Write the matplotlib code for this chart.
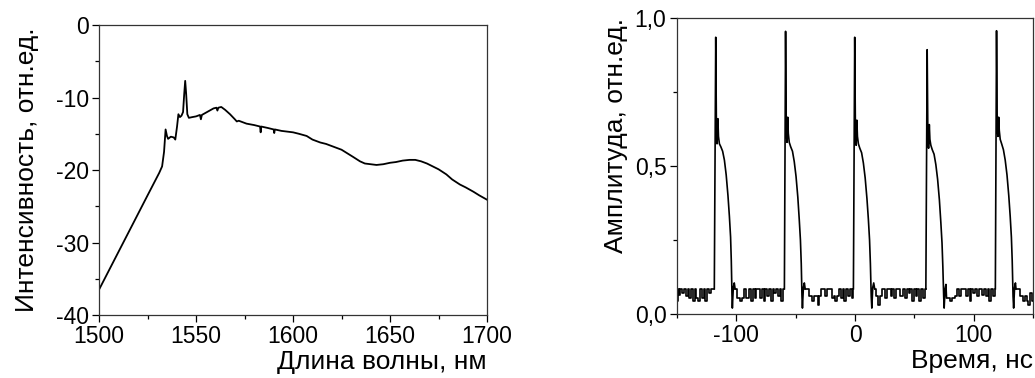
import numpy as np
import matplotlib
matplotlib.use('Agg')
import matplotlib.pyplot as plt
from matplotlib.ticker import MultipleLocator

plt.rcParams['font.family'] = ['Liberation Sans', 'DejaVu Sans']
plt.rcParams['font.size'] = 16.5
plt.rcParams['axes.labelsize'] = 19
plt.rcParams['axes.unicode_minus'] = False

# ---- spectrum (left panel) ----
wl = [1500, 1510, 1517.7, 1525, 1531, 1532.5, 1533.5, 1534.3, 1535.0, 1535.6, 1537, 1538.5,
      1539.3, 1540.2, 1540.9, 1541.7, 1542.5, 1543.3, 1543.9, 1544.4, 1544.9, 1545.5, 1546.3,
      1548, 1550, 1552, 1552.5, 1553, 1555, 1557, 1559, 1560.5, 1561, 1561.5, 1563, 1565,
      1567.5, 1570, 1571, 1572, 1576, 1580, 1583, 1583.3, 1583.6, 1587, 1590, 1590.3, 1590.6,
      1594, 1597, 1600, 1603, 1607, 1610, 1614, 1617, 1621, 1625, 1628, 1631, 1634.5, 1637,
      1640, 1643, 1646.5, 1650, 1653, 1656.5, 1660, 1663, 1666, 1669, 1672, 1675, 1679, 1682,
      1686, 1689, 1693, 1696, 1700]
intens = [-36.5, -31.3, -27.3, -23.5, -20.4, -19.5, -17.5, -14.4, -15.3, -15.7, -15.4, -15.5,
          -15.8, -14.0, -12.3, -12.7, -12.5, -12.0, -9.5, -7.7, -9.5, -12.3, -12.8,
          -12.7, -12.6, -12.4, -13.0, -12.4, -12.1, -11.8, -11.5, -11.4, -11.8, -11.4, -11.3, -11.7,
          -12.3, -13.0, -13.3, -13.2, -13.6, -13.8, -14.0, -14.8, -14.0, -14.2, -14.4, -14.9, -14.4,
          -14.6, -14.7, -14.8, -15.0, -15.3, -15.8, -16.2, -16.4, -16.8, -17.2, -17.7, -18.2, -18.8, -19.1,
          -19.2, -19.3, -19.2, -19.0, -18.9, -18.7, -18.6, -18.6, -18.8, -19.1, -19.5, -19.9, -20.6, -21.3,
          -22.0, -22.4, -23.0, -23.5, -24.1]

# ---- pulse train (right panel) ----
p1_t = [-118.5, -117.3, -116.7, -116.2, -115.5, -115.0, -114.2, -113.0, -111.5, -110.0, -108.5,
        -107.0, -105.8, -104.8, -104.2, -103.6, -103.3, -102.5, -101.7, -101]
p1_a = [0.085, 0.935, 0.62, 0.575, 0.66, 0.6, 0.575, 0.565, 0.55, 0.52, 0.47,
        0.40, 0.33, 0.26, 0.18, 0.06, 0.02, 0.09, 0.105, 0.085]
p2_t = [-59.5, -58.5, -57.9, -57.3, -56.7, -56.2, -55.4, -54.2, -52.7, -51.2, -49.7,
        -48.2, -47.0, -46.0, -45.3, -44.7, -44.3, -43.5, -42.7, -42]
p2_a = [0.085, 0.955, 0.62, 0.58, 0.665, 0.61, 0.58, 0.565, 0.55, 0.515, 0.465,
        0.395, 0.32, 0.25, 0.17, 0.06, 0.02, 0.09, 0.105, 0.085]
p3_t = [-1.4, -0.3, 0.3, 0.9, 1.5, 2.0, 2.8, 4.0, 5.5, 7.0, 8.5,
        10.0, 11.2, 12.2, 12.9, 13.6, 14.1, 14.9, 15.7, 16.5]
p3_a = [0.085, 0.935, 0.62, 0.57, 0.655, 0.6, 0.575, 0.56, 0.545, 0.51, 0.46,
        0.39, 0.32, 0.25, 0.17, 0.06, 0.02, 0.09, 0.105, 0.085]
p4_t = [59.6, 60.7, 61.3, 61.9, 62.5, 63.0, 63.8, 65.0, 66.5, 68.0, 69.5,
        71.0, 72.2, 73.2, 73.9, 74.6, 75.0, 75.8, 76.5, 77]
p4_a = [0.085, 0.893, 0.6, 0.56, 0.64, 0.59, 0.57, 0.555, 0.54, 0.505, 0.455,
        0.385, 0.31, 0.24, 0.16, 0.06, 0.02, 0.085, 0.1, 0.055]
p5_t = [118.1, 119.1, 119.7, 120.3, 120.9, 121.4, 122.2, 123.4, 124.9, 126.4, 127.9,
        129.4, 130.6, 131.6, 132.3, 133.0, 133.5, 134.3, 135.0, 135.5]
p5_a = [0.085, 0.957, 0.63, 0.6, 0.665, 0.62, 0.59, 0.575, 0.555, 0.52, 0.47,
        0.4, 0.33, 0.26, 0.18, 0.06, 0.02, 0.09, 0.105, 0.085]

# noisy baseline between pulses
bA_t = [-150, -149, -148, -147, -145.5, -144, -142.5, -141, -139.5, -138, -136.5, -135,
        -133.5, -132, -130.5, -129, -127.5, -126, -124.5, -123, -121.5, -120, -118.5]
bA_a = [0.045, 0.085, 0.065, 0.085, 0.07, 0.085, 0.06, 0.085, 0.055, 0.085, 0.045, 0.085,
        0.055, 0.045, 0.085, 0.055, 0.085, 0.045, 0.085, 0.07, 0.085, 0.085, 0.085]
bB_t = [-101, -99.5, -98, -96.5, -95, -93.5, -92, -90.5, -89, -87.5, -86, -84.5, -83, -81.5,
        -80, -78.5, -77, -75.5, -74, -72.5, -71, -69.5, -68, -66.5, -65, -63.5, -62, -60.5, -59.5]
bB_a = [0.085, 0.055, 0.055, 0.045, 0.055, 0.085, 0.055, 0.055, 0.085, 0.045, 0.085, 0.055, 0.085, 0.085,
        0.055, 0.085, 0.045, 0.085, 0.06, 0.085, 0.045, 0.085, 0.07, 0.085, 0.06, 0.085, 0.045, 0.085, 0.085]
bC_t = [-42, -40.5, -39, -37.5, -36, -34.5, -33, -31.5, -30, -28.5, -27, -25.5, -24, -22.5,
        -21, -19.5, -18, -16.5, -15, -13.5, -12, -10.5, -9, -7.5, -6, -4.5, -3, -1.4]
bC_a = [0.085, 0.085, 0.06, 0.06, 0.045, 0.06, 0.06, 0.03, 0.06, 0.085, 0.085, 0.06, 0.085, 0.085,
        0.085, 0.055, 0.06, 0.045, 0.06, 0.085, 0.055, 0.085, 0.045, 0.085, 0.06, 0.085, 0.055, 0.085]
bD_t = [16.5, 18, 19.5, 21, 22.5, 24, 25.5, 27, 28.5, 30, 31.5, 33, 34.5, 36, 37.5, 39, 40.5,
        42, 43.5, 45, 46.5, 48, 49.5, 51, 52.5, 54, 55.5, 57, 58.5, 59.6]
bD_a = [0.085, 0.06, 0.03, 0.06, 0.085, 0.085, 0.055, 0.085, 0.085, 0.06, 0.085, 0.055, 0.085, 0.085,
        0.06, 0.06, 0.085, 0.055, 0.085, 0.07, 0.085, 0.045, 0.085, 0.06, 0.085, 0.045, 0.085, 0.055,
        0.085, 0.085]
bE_t = [77, 78.5, 80, 81.5, 83, 84.5, 86, 87.5, 89, 90.5, 92, 93.5, 95, 96.5, 98, 99.5, 101,
        102.5, 104, 105.5, 107, 108.5, 110, 111.5, 113, 114.5, 116, 118.1]
bE_a = [0.055, 0.055, 0.045, 0.055, 0.055, 0.06, 0.085, 0.06, 0.085, 0.085, 0.085, 0.06, 0.085,
        0.045, 0.085, 0.07, 0.085, 0.06, 0.085, 0.085, 0.065, 0.085, 0.06, 0.085, 0.045, 0.085, 0.06, 0.085]
bF_t = [135.5, 137, 138.5, 140, 141.5, 143, 144.5, 146, 147.5, 149, 150]
bF_a = [0.085, 0.085, 0.06, 0.06, 0.045, 0.06, 0.045, 0.03, 0.07, 0.045, 0.045]

amp_ticks = [0.0, 0.5, 1.0]
amp_labels = ['0,0', '0,5', '1,0']

fig = plt.figure(figsize=(10.35, 3.78), dpi=100)

ax1 = fig.add_axes([0.0957, 0.1667, 0.3749, 0.767])
ax1.plot(wl, intens, color='black', lw=1.3)
ax1.set_xlim(1500, 1700)
ax1.set_ylim(-40, 0)
ax1.set_xticks([1500, 1550, 1600, 1650, 1700])
ax1.set_yticks([-40, -30, -20, -10, 0])
ax1.xaxis.set_minor_locator(MultipleLocator(25))
ax1.yaxis.set_minor_locator(MultipleLocator(5))
ax1.set_xlabel('Длина волны, нм', loc='right', labelpad=1)
ax1.set_ylabel('Интенсивность, отн.ед.', labelpad=12)

ax2 = fig.add_axes([0.654, 0.1693, 0.3443, 0.783])
for t, a in [(p1_t, p1_a), (p2_t, p2_a), (p3_t, p3_a), (p4_t, p4_a), (p5_t, p5_a)]:
    ax2.plot(t, a, color='black', lw=1.2)
for t, a in [(bA_t, bA_a), (bB_t, bB_a), (bC_t, bC_a), (bD_t, bD_a), (bE_t, bE_a), (bF_t, bF_a)]:
    ax2.plot(t, a, color='black', lw=1.2, drawstyle='steps-post')
ax2.set_xlim(-150, 150)
ax2.set_ylim(0, 1)
ax2.set_xticks([-100, 0, 100])
ax2.set_yticks(amp_ticks)
ax2.set_yticklabels(amp_labels)
ax2.xaxis.set_minor_locator(MultipleLocator(50))
ax2.yaxis.set_minor_locator(MultipleLocator(0.25))
ax2.set_xlabel('Время, нс', loc='right', labelpad=1)
ax2.set_ylabel('Амплитуда, отн.ед.', loc='top', labelpad=5)

for ax in (ax1, ax2):
    for s in ax.spines.values():
        s.set_linewidth(0.9)
        s.set_color('#333333')
    ax.tick_params(which='major', direction='out', length=5, width=0.9, pad=2.5)
    ax.tick_params(which='minor', direction='out', length=3, width=0.9)

plt.savefig('out.png', dpi=100)
